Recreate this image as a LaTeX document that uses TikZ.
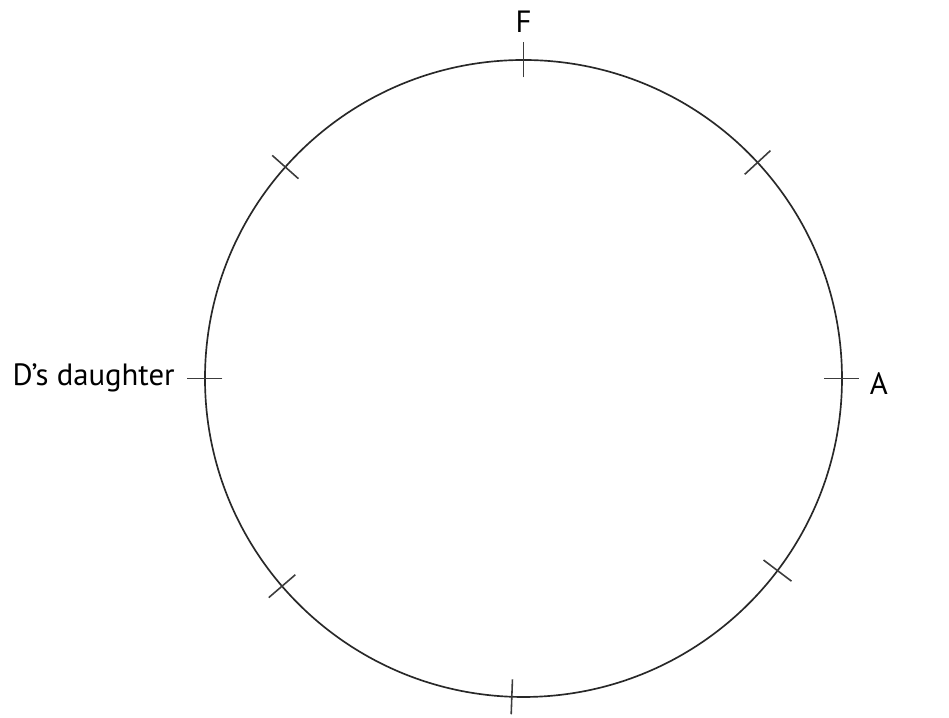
\documentclass[tikz,border=0pt]{standalone}
\usepackage{fontspec}
\setmainfont{PT Sans}
\usepackage{xcolor}
\usetikzlibrary{positioning}
\definecolor{ringgray}{RGB}{40,40,40}
\definecolor{tickgray}{RGB}{60,60,60}

\begin{document}
\begin{tikzpicture}[
  ring/.style     = {draw=ringgray, line width=0.95pt},
  tickmark/.style = {draw=tickgray, line width=0.9pt},
  seatlbl/.style  = {font=\fontsize{17.5}{21}\selectfont, text=black, inner sep=0pt},
]
\useasboundingbox (-10.47,-6.79) rectangle (8.51,7.57);

%% --- Table ---
\coordinate (c) at (0,0);
\draw[ring] (c) circle (6.37);

%% --- Seats (ticks) ---
\foreach \a/\n in {90/top,42.7/ur,0/right,322.9/lr,267.9/bot,220.7/ll,180/left,138.4/ul} {
  \coordinate (\n) at (\a:6.37);
  \draw[tickmark] (\a:6.02) -- (\a:6.72);
}

%% --- Labels ---
\node[seatlbl, above=0.54cm of top] (lf) {F};
\node[seatlbl, anchor=west] (la) at (6.92,-0.1) {A};
\node[seatlbl, anchor=base east] (ld) at (-6.97,-0.15) {D’s daughter};

\end{tikzpicture}
\end{document}
